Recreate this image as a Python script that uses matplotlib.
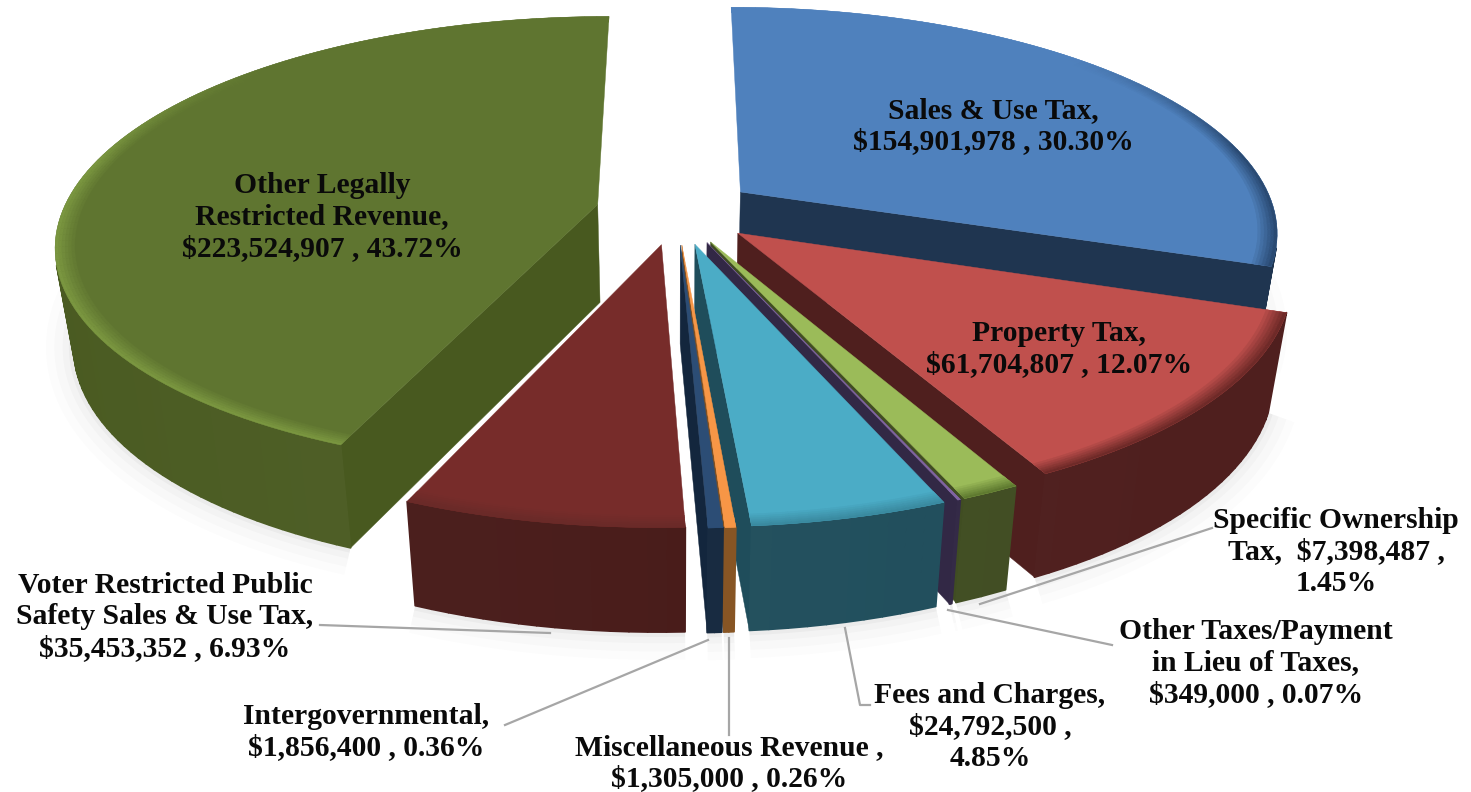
import numpy as np
import matplotlib
matplotlib.use("Agg")
import matplotlib.pyplot as plt
from matplotlib.collections import PolyCollection
from matplotlib.colors import to_rgb

names = ["Sales & Use Tax,", "Property Tax,", "Specific Ownership\nTax,  ", "Other Taxes/Payment\nin Lieu of Taxes,",
         "Fees and Charges,", "Miscellaneous Revenue ,", "Intergovernmental,",
         "Voter Restricted Public\nSafety Sales & Use Tax,", "Other Legally\nRestricted Revenue,"]
amounts = [154901978, 61704807, 7398487, 349000, 24792500, 1305000, 1856400, 35453352, 223524907]
shares = [30.30, 12.07, 1.45, 0.07, 4.85, 0.26, 0.36, 6.93, 43.72]
top_colors = ["#4F81BD", "#C0504D", "#9BBB59", "#8064A2", "#4BACC6", "#F79646", "#2C4D75", "#772C2A", "#5F7530"]
wall_colors = ["#1F3550", "#4F1F1E", "#404D22", "#322845", "#1F4D5B", "#84511F", "#13263D", "#451715", "#48591F"]
rim_colors = ["#2A4A72", "#6E2A28", "#5F7A30", "#8064A2", "#3A8AA0", "#F79646", "#2C4D75", "#6A2A28", "#7A9640"]

# text centres
label_pos = [(993, 126), (1059, 349), (1336, 552), (1256, 663), (990, 727), (729, 763), (366, 732), (165, 617), (322, 217)]
# "\n" between amount and share where the label wraps there
share_sep = [" ", " ", "\n", " ", "\n", " ", " ", " ", " "]
# "\n" between name and amount, "" where they stay on one line
name_sep = ["\n", "\n", "", "\n", "\n", "\n", "\n", "\n", "\n"]

leaders = [[(980, 604), (1212, 528)], [(948, 610), (1112, 645)], [(845, 628), (860, 705), (870, 705)],
           [(729, 638), (729, 735)], [(708, 640), (505, 725)], [(320, 625), (550, 633)]]

# camera of the tilted pie
cx, cy, ax_x, ax_y, persp, depth, explode, taper = 676, 211, 535, 222, 0.17, 98, 0.15, 0.03


def project(x, y, z=0.0):
    w = 1 / (1 - persp * y)
    return cx + ax_x * x * w * (1 - taper * z), cy + ax_y * y * w + depth * z * w ** 0.3


def area(p):
    p = np.array(p)
    q = np.roll(p, -1, axis=0)
    return np.sum(p[:, 0] * q[:, 1] - q[:, 0] * p[:, 1]) / 2


def mix(a, b, t):
    a, b = np.array(to_rgb(a)), np.array(to_rgb(b))
    return tuple(a + (b - a) * t)


fig = plt.figure(figsize=(14.71, 7.92), dpi=100)
ax = fig.add_axes([0, 0, 1, 1])
ax.set_xlim(0, 1471)
ax.set_ylim(792, 0)
ax.axis("off")

edges = np.cumsum([0] + shares) / sum(shares) * 2 * np.pi
order = [0, 8, 1, 2, 3, 4, 5, 6, 7]


def slice_geo(i):
    t = np.linspace(edges[i], edges[i + 1], max(3, int(np.degrees(edges[i + 1] - edges[i]) / 1.5)))
    mid = (edges[i] + edges[i + 1]) / 2
    return t, explode * np.sin(mid), -explode * np.cos(mid)


# soft shadow on the floor, front of the pie only
for i in range(9):
    t, ox, oy = slice_geo(i)
    keep = -np.cos(t) > -0.15
    if keep.sum() < 2:
        continue
    bx, by = project(ox + np.sin(t[keep]), oy - np.cos(t[keep]), 1.0)
    for lw, al in [(40, 0.012), (28, 0.016), (16, 0.02), (7, 0.03)]:
        ax.plot(bx, by, color="#000000", alpha=al, lw=lw, solid_capstyle="butt", zorder=1)

z = 2
for i in order:
    t, ox, oy = slice_geo(i)
    rim_x, rim_y = ox + np.sin(t), oy - np.cos(t)
    apex = (ox, oy)
    # radial walls, the ones pointing to the back stay hidden
    for k, (rx, ry) in enumerate([(rim_x[0], rim_y[0]), (rim_x[-1], rim_y[-1])]):
        if ry < -0.5:
            continue
        poly = [project(*apex), project(rx, ry), project(rx, ry, 1), project(*apex, 1)]
        if k == 1:
            poly = [poly[1], poly[0], poly[3], poly[2]]
        if area(poly) < 0:
            ax.fill(*zip(*poly), color=wall_colors[i], lw=0.3, zorder=z)
    # outer wall
    strips, cols = [], []
    for j in range(len(t) - 1):
        poly = [project(rim_x[j], rim_y[j]), project(rim_x[j + 1], rim_y[j + 1]),
                project(rim_x[j + 1], rim_y[j + 1], 1), project(rim_x[j], rim_y[j], 1)]
        if area(poly) < 0:
            strips.append(poly)
            cols.append(mix(wall_colors[i], "#ffffff", 0.035 * max(0, 1 - abs(np.sin(t[j]) + 0.3))))
    if strips:
        ax.add_collection(PolyCollection(strips, facecolors=cols, edgecolors=cols, linewidths=1.2, zorder=z))
    # top face
    xs, ys = project(np.r_[ox, rim_x], np.r_[oy, rim_y])
    ax.fill(xs, ys, color=top_colors[i], lw=0.3, zorder=z)
    # bevel along the rim, fading out towards the back
    rings = np.linspace(0.965, 1.0, 7)
    strips, cols = [], []
    for a, b in zip(rings[:-1], rings[1:]):
        for j in range(len(t) - 1):
            poly = [project(ox + a * np.sin(t[j]), oy - a * np.cos(t[j])),
                    project(ox + a * np.sin(t[j + 1]), oy - a * np.cos(t[j + 1])),
                    project(ox + b * np.sin(t[j + 1]), oy - b * np.cos(t[j + 1])),
                    project(ox + b * np.sin(t[j]), oy - b * np.cos(t[j]))]
            strips.append(poly)
            fade = np.clip((-np.cos(t[j]) + 0.7) / 0.5, 0, 1)
            cols.append(mix(top_colors[i], rim_colors[i], fade * (b - 0.965) / 0.035))
    ax.add_collection(PolyCollection(strips, facecolors=cols, edgecolors=cols, linewidths=0.3, zorder=z))
    z += 1

for pts in leaders:
    ax.plot(*zip(*pts), color="#A6A6A6", lw=1.6, zorder=30)

for i in range(9):
    label = f"{names[i]}{name_sep[i]}${amounts[i]:,} ,{share_sep[i]}{shares[i]:.2f}%"
    ax.text(*label_pos[i], label, ha="center", va="center", family="Liberation Serif", weight="bold",
            fontsize=21.3, color="#0A0A0A", linespacing=1.22, zorder=40)

fig.savefig("out.png", dpi=100)
